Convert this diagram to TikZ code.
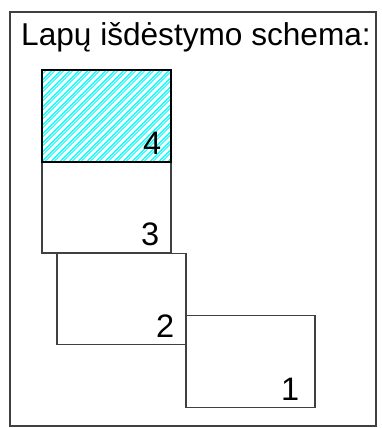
\documentclass[tikz,border=0pt]{standalone}
\usepackage{fontspec}
\setmainfont{Liberation Sans}
\definecolor{aqua}{RGB}{0,255,255}
\begin{document}
\begin{tikzpicture}[x=1pt,y=-1pt,
  frame/.style={draw=black!75, line width=1.3pt},
  page/.style={draw=black!75, line width=1.3pt, minimum width=129pt, minimum height=91.5pt, inner sep=0pt, outer sep=0pt},
  active/.style={page, draw=black, line width=2pt},
  num/.style={font=\fontsize{32.5}{33}\selectfont, inner sep=0pt, anchor=base east},
  hatch/.style={draw=aqua, line width=1.4pt}]
\useasboundingbox (0,0) rectangle (382,428);
\node[frame, minimum width=366pt, minimum height=414pt, inner sep=0pt] (fr) at (193,219) {};
\node[font=\fontsize{31.6}{33}\selectfont, inner sep=0pt, anchor=base] (title) at (196,45.7) {Lapų išdėstymo schema:};
% page 4 hatching
\begin{scope}
  \clip (42,70) rectangle (171,161.5);
  \foreach \k in {-12,...,16} {
    \draw[hatch] ({42+\k*9},161.5) -- ({42+\k*9+91.5},70);
    \draw[hatch, line width=1pt] ({45+\k*9},161.5) -- ({45+\k*9+91.5},70);
  }
\end{scope}
\node[page] (p3) at (106.5,207.25) {};
\node[page] (p2) at (121.5,299) {};
\node[page, minimum height=92pt] (p1) at (250.5,361.7) {};
\node[active] (p4) at (106.5,115.75) {};
\node[num] (n4) at (161.5,154.5) {4};
\node[num] (n3) at (159.5,245) {3};
\node[num] (n2) at (174.5,337) {2};
\node[num] (n1) at (299.5,400) {1};
\end{tikzpicture}
\end{document}
